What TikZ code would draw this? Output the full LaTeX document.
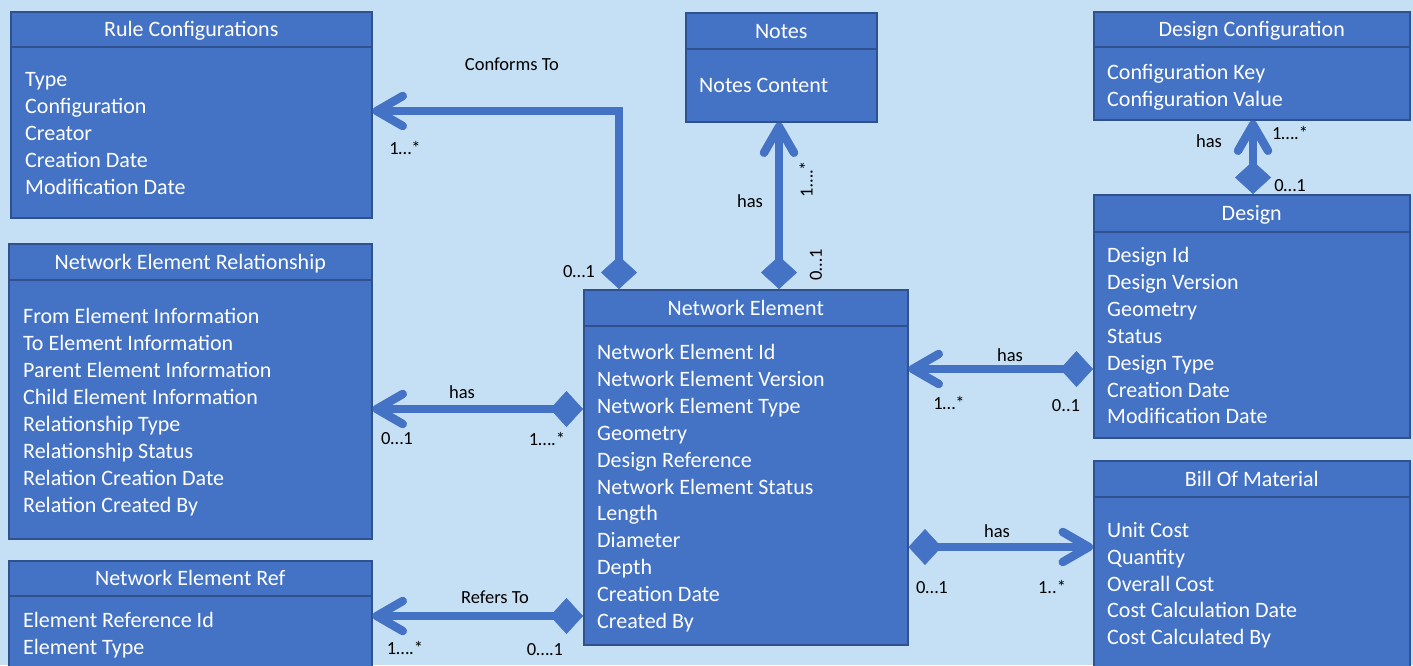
\documentclass[tikz,border=0pt]{standalone}
\usepackage{fontspec}
\setmainfont{Carlito}
\usetikzlibrary{arrows.meta,calc}

\definecolor{bg}{HTML}{C5E0F4}
\definecolor{boxfill}{HTML}{4472C4}
\definecolor{boxline}{HTML}{2F528F}
\definecolor{link}{HTML}{4472C4}

\tikzset{
  entity/.style={draw=boxline, line width=1.5pt, fill=boxfill, inner sep=0pt,
    anchor=north west},
  titletext/.style={text=white, font=\fontsize{22}{27}\selectfont, anchor=base, inner sep=0pt},
  fieldtext/.style={text=white, font=\fontsize{22}{27}\selectfont, anchor=base west, inner sep=0pt},
  conn/.style={draw=link, line width=8.5pt, line join=miter,
    arrows={Diamond[length=33pt, width=36pt, line width=0.5pt, fill=link]-Straight Barb[length=26pt, width=30pt, line cap=round, line join=round]}},
  lbl/.style={text=black, font=\fontsize{18.5}{22}\selectfont, inner sep=0pt},
}

% an entity box: name, x, y, width, height, header depth, title
\newcommand\entitybox[7]{%
  \node[entity, minimum width=#4pt, minimum height=#5pt] (#1) at (#2,#3) {};
  \draw[boxline, line width=1.5pt] ([yshift=-#6pt]#1.north west) -- ([yshift=-#6pt]#1.north east);
  \node[titletext] (#1-title) at ($(#1.north)+(0,-#6pt/2-7.5pt)$) {#7};
}
% a column of attribute lines
\newcommand\fieldlist[5]{%
  \foreach \t [count=\i from 0] in {#5}
    \node[fieldtext] (#1-f\i) at (#2,{#3+#4*\i}) {\t};
}

\begin{document}
\begin{tikzpicture}[x=1pt, y=-1pt]
  \fill[bg] (0,0) rectangle (1413,665);
  \useasboundingbox (0,0) rectangle (1413,665);
  \clip (0,0) rectangle (1413,665);

  % entity boxes
  \entitybox{rc}{10}{11}{361}{206}{36}{Rule Configurations}
  \fieldlist{rc}{25}{86.5}{27}{Type, Configuration, Creator, Creation Date, Modification Date}

  \entitybox{ner}{8}{243}{363}{295}{37}{Network Element Relationship}
  \fieldlist{ner}{23}{323.5}{27}{From Element Information, To Element Information,
    Parent Element Information, Child Element Information, Relationship Type,
    Relationship Status, Relation Creation Date, Relation Created By}

  \entitybox{nref}{8}{560}{363}{130}{36}{Network Element Ref}
  \fieldlist{nref}{23}{627.5}{27}{Element Reference Id, Element Type}

  \entitybox{notes}{685}{12}{191}{109}{37}{Notes}
  \fieldlist{notes}{699}{92.5}{27}{Notes Content}

  \entitybox{ne}{583}{289}{324}{355}{37}{Network Element}
  \fieldlist{ne}{597}{359.5}{26.9}{Network Element Id, Network Element Version,
    Network Element Type, Geometry, Design Reference, Network Element Status,
    Length, Diameter, Depth, Creation Date, Created By}

  \entitybox{dc}{1093}{11}{316}{108}{36}{Design Configuration}
  \fieldlist{dc}{1107}{79.5}{26.5}{Configuration Key, Configuration Value}

  \entitybox{design}{1093}{194}{316}{243}{38}{Design}
  \fieldlist{design}{1107}{262.5}{26.9}{Design Id, Design Version, Geometry, Status,
    Design Type, Creation Date, Modification Date}

  \entitybox{bom}{1093}{460}{316}{230}{37}{Bill Of Material}
  \fieldlist{bom}{1107}{537.5}{26.8}{Unit Cost, Quantity, Overall Cost,
    Cost Calculation Date, Cost Calculated By}

  % relationships
  \draw[conn] ([xshift=36pt]ne.north west) |- ([yshift=-100pt]rc.north east);
  \node[lbl] (l-conf) at (512,64) {Conforms To};
  \node[lbl] (l-conf-a) at (405,148) {1…*};
  \node[lbl] (l-conf-b) at (579,272) {0…1};

  \draw[conn] ([xshift=196pt]ne.north west) coordinate (n1) -- (n1 |- notes.south);
  \node[lbl] (l-notes) at (750,201) {has};
  \node[lbl, rotate=90] (l-notes-a) at (806,179) {1….*};
  \node[lbl, rotate=90] (l-notes-b) at (816,265) {0…1};

  \draw[conn] ([xshift=160pt]design.north west) coordinate (d1) -- (d1 |- dc.south);
  \node[lbl] (l-dc) at (1209,141) {has};
  \node[lbl] (l-dc-a) at (1290,133) {1….*};
  \node[lbl] (l-dc-b) at (1290,186) {0…1};

  \draw[conn] ([yshift=-120pt]ne.north west) coordinate (r1) -- (r1 -| ner.east);
  \node[lbl] (l-ner) at (462,392) {has};
  \node[lbl] (l-ner-a) at (397,439) {0…1};
  \node[lbl] (l-ner-b) at (547,439) {1….*};

  \draw[conn] ([yshift=-175pt]design.north west) coordinate (r2) -- (r2 -| ne.east);
  \node[lbl] (l-des) at (1010,355) {has};
  \node[lbl] (l-des-a) at (949,403) {1…*};
  \node[lbl] (l-des-b) at (1066,406) {0..1};

  \draw[conn] ([yshift=-258pt]ne.north east) coordinate (r3) -- (r3 -| bom.west);
  \node[lbl] (l-bom) at (997,531) {has};
  \node[lbl] (l-bom-a) at (932,588) {0…1};
  \node[lbl] (l-bom-b) at (1052,587) {1..*};

  \draw[conn] ([yshift=-327pt]ne.north west) coordinate (r4) -- (r4 -| nref.east);
  \node[lbl] (l-ref) at (495,597) {Refers To};
  \node[lbl] (l-ref-a) at (405,648) {1….*};
  \node[lbl] (l-ref-b) at (545,650) {0….1};
\end{tikzpicture}
\end{document}
